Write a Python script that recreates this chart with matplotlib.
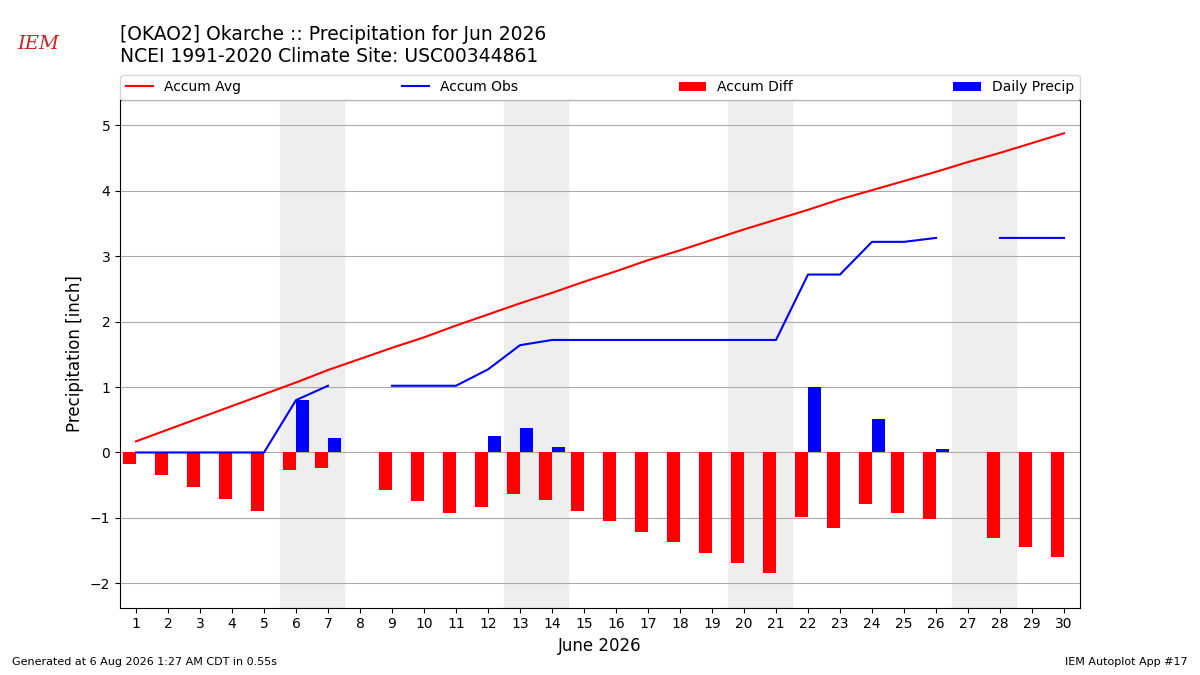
import numpy as np
import matplotlib.pyplot as plt

days = np.arange(1, 31)
accum_avg = [0.17, 0.35, 0.53, 0.71, 0.89, 1.07, 1.26, 1.43, 1.60, 1.76,
             1.94, 2.11, 2.28, 2.44, 2.61, 2.77, 2.94, 3.09, 3.25, 3.41,
             3.56, 3.71, 3.87, 4.01, 4.15, 4.29, 4.44, 4.58, 4.73, 4.88]
nan = np.nan
accum_obs = [0, 0, 0, 0, 0, 0.80, 1.02, nan, 1.02, 1.02,
             1.02, 1.27, 1.64, 1.72, 1.72, 1.72, 1.72, 1.72, 1.72, 1.72,
             1.72, 2.72, 2.72, 3.22, 3.22, 3.28, nan, 3.28, 3.28, 3.28]
daily = [0, 0, 0, 0, 0, 0.80, 0.22, nan, 0, 0,
         0, 0.25, 0.37, 0.08, 0, 0, 0, 0, 0, 0,
         0, 1.00, 0, 0.51, 0, 0.06, nan, 0, 0, 0]
weekends = [6, 13, 20, 27]

avg = np.array(accum_avg)
obs = np.array(accum_obs)
diff = obs - avg

fig = plt.figure(figsize=(12, 6.75), dpi=100)
ax = fig.add_axes([0.1, 0.1, 0.8, 0.752])

for w in weekends:
    ax.axvspan(w - 0.5, w + 1.5, color='#eeeeee', zorder=0)

ax.plot(days, avg, color='r', label='Accum Avg', zorder=3)
ax.plot(days, obs, color='b', label='Accum Obs', zorder=3)
ax.bar(days - 0.2, diff, width=0.4, color='r', label='Accum Diff', zorder=2)
ax.bar(days + 0.2, daily, width=0.4, color='b', label='Daily Precip', zorder=2)

ax.set_xlim(0.5, 30.5)
ax.set_ylim(-2.37, 5.39)
ax.set_xticks(days)
ax.set_yticks(range(-2, 6))
ax.yaxis.grid(True, color='#aaaaaa')
ax.set_axisbelow(True)
ax.set_xlabel('June 2026', fontsize=12)
ax.set_ylabel('Precipitation [inch]', fontsize=12)

ax.legend(loc='lower left', bbox_to_anchor=(0, 1.0, 1, 0.05), ncol=4,
          mode='expand', borderaxespad=0, fontsize=10)

fig.text(0.1, 0.932, '[OKAO2] Okarche :: Precipitation for Jun 2026\n'
         'NCEI 1991-2020 Climate Site: USC00344861', fontsize=13.5, va='center')
fig.text(0.032, 0.935, 'IEM', color='#cc2222', fontsize=14, style='italic',
         family='serif', ha='center', va='center')
fig.text(0.01, 0.015, 'Generated at 6 Aug 2026 1:27 AM CDT in 0.55s', fontsize=8)
fig.text(0.99, 0.015, 'IEM Autoplot App #17', fontsize=8, ha='right')

fig.savefig('out.png')
